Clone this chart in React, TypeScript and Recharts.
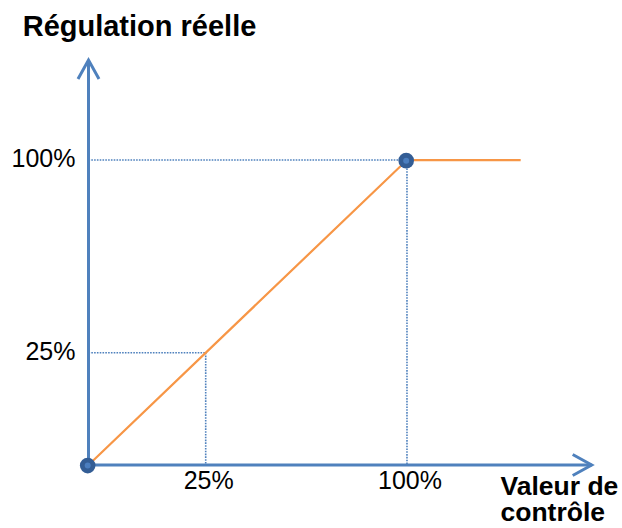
import React from 'react';
import { ComposedChart, Line, XAxis, YAxis, ReferenceLine, ReferenceDot } from 'recharts';

// control value (x) vs real regulation (y), in chart units (the drawing is not to scale)
const curveX = [0, 100, 135.7];
const curveY = [0, 100, 100];
const markerFlags = [true, true, false];

const tickValues = [36.8, 100];
const tickLabels = ['25%', '100%'];

const X_MAX = 158;
const Y_MAX = 132.8;

const AXIS_BLUE = '#4f81bd';
const ORANGE = '#f79646';
const FONT = '"Liberation Sans", Arial, sans-serif';

const data = curveX.map((x, i) => ({ x, y: curveY[i], marker: markerFlags[i] }));

const labelFor = (v: number) => {
  const i = tickValues.indexOf(v);
  return i >= 0 ? tickLabels[i] : '';
};

const Marker: React.FC<any> = ({ cx, cy, payload }) => {
  if (!payload || !payload.marker) return null;
  return (
    <g>
      <circle cx={cx - 0.8} cy={cy + 0.6} r={7.8} fill="#335d95" />
      <circle cx={cx - 0.8} cy={cy + 0.6} r={3} fill="#4b7ebf" />
    </g>
  );
};

const ArrowUp: React.FC<any> = ({ cx, cy }) => (
  <path d={`M${cx - 10.5},${cy + 19} L${cx},${cy} L${cx + 10.5},${cy + 19}`} fill="none" stroke={AXIS_BLUE} strokeWidth={3} />
);

const ArrowRight: React.FC<any> = ({ cx, cy }) => (
  <path d={`M${cx - 19},${cy - 10.5} L${cx},${cy} L${cx - 19},${cy + 10.5}`} fill="none" stroke={AXIS_BLUE} strokeWidth={3} />
);

const XTick: React.FC<any> = ({ x, y, payload }) => (
  <text x={x + 3} y={y} dy="0.71em" textAnchor="middle" fontSize={25} fontFamily={FONT} fill="#000">
    {labelFor(payload.value)}
  </text>
);

const YTick: React.FC<any> = ({ x, y, payload }) => (
  <text x={x} y={y - 2} dy="0.355em" textAnchor="end" fontSize={25} fontFamily={FONT} fill="#000">
    {labelFor(payload.value)}
  </text>
);

const dotted = { stroke: AXIS_BLUE, strokeWidth: 1.6, strokeDasharray: '1.6 1.2' };

export default function App() {
  return (
    <div style={{ position: 'absolute', left: 0, top: 0, width: 622, height: 528, background: '#fff' }}>
      <ComposedChart width={622} height={528} data={data} margin={{ top: 60, right: 30.3, bottom: 0, left: 0 }}>
        <XAxis
          type="number"
          dataKey="x"
          domain={[0, X_MAX]}
          ticks={tickValues}
          tickLine={false}
          tickSize={0}
          tickMargin={6}
          height={63}
          axisLine={{ stroke: AXIS_BLUE, strokeWidth: 3 }}
          tick={<XTick />}
          interval={0}
        />
        <YAxis
          type="number"
          domain={[0, Y_MAX]}
          ticks={tickValues}
          tickLine={false}
          tickSize={0}
          tickMargin={13}
          width={88.5}
          axisLine={{ stroke: AXIS_BLUE, strokeWidth: 3 }}
          tick={<YTick />}
          interval={0}
        />
        <ReferenceLine segment={[{ x: 0, y: 100 }, { x: 100, y: 100 }]} {...dotted} />
        <ReferenceLine segment={[{ x: 100, y: 100 }, { x: 100, y: 0 }]} {...dotted} />
        <ReferenceLine segment={[{ x: 0, y: tickValues[0] }, { x: tickValues[0], y: tickValues[0] }]} {...dotted} />
        <ReferenceLine segment={[{ x: tickValues[0], y: tickValues[0] }, { x: tickValues[0], y: 0 }]} {...dotted} />
        <ReferenceDot x={0} y={Y_MAX} ifOverflow="visible" shape={<ArrowUp />} />
        <ReferenceDot x={X_MAX} y={0} ifOverflow="visible" shape={<ArrowRight />} />
        <Line
          type="linear"
          dataKey="y"
          stroke={ORANGE}
          strokeWidth={2.2}
          dot={<Marker />}
          activeDot={false}
          isAnimationActive={false}
        />
        <text x={22.7} y={36} fontSize={29} fontWeight="bold" fontFamily={FONT} fill="#000">
          Régulation réelle
        </text>
        <text x={500.5} y={495} fontSize={26.5} fontWeight="bold" fontFamily={FONT} fill="#000">
          Valeur de
        </text>
        <text x={500.5} y={521} fontSize={26.5} fontWeight="bold" fontFamily={FONT} fill="#000">
          contrôle
        </text>
      </ComposedChart>
    </div>
  );
}
